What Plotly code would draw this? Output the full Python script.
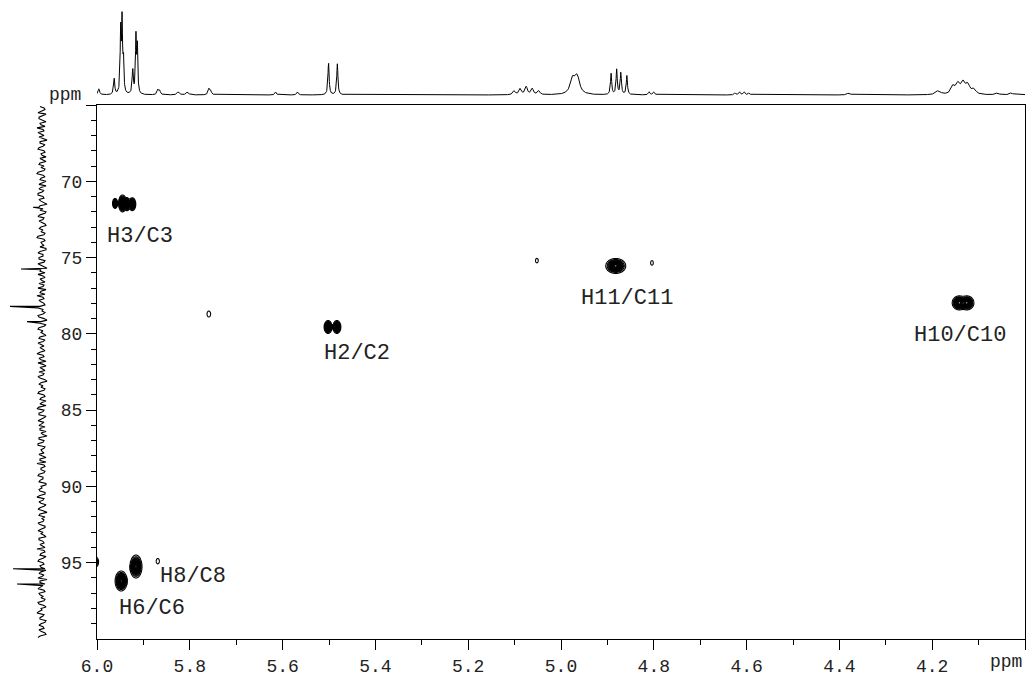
import numpy as np
import plotly.graph_objects as go

# ---------------- 2D cross peaks (1H ppm, 13C ppm) ----------------
peak_h = [5.961, 5.945, 5.935, 5.924, 5.502, 5.483, 4.882, 4.142, 4.125,
          5.916, 5.948, 6.003, 5.759, 5.052, 4.804, 5.869]
peak_c = [71.45, 71.45, 71.50, 71.50, 79.55, 79.55, 75.55, 77.97, 77.97,
          95.25, 96.20, 94.95, 78.70, 75.20, 75.35, 94.90]
peak_sh = [0.0022, 0.0035, 0.0026, 0.0031, 0.0035, 0.0035, 0.0088, 0.0061, 0.0061,
           0.0053, 0.0053, 0.0034, 0.0040, 0.0030, 0.0030, 0.0035]
peak_sc = [0.133, 0.227, 0.173, 0.173, 0.173, 0.173, 0.200, 0.187, 0.187,
           0.307, 0.267, 0.173, 0.200, 0.150, 0.150, 0.180]
peak_amp = [1, 1, 1, 1, 1, 1, 1, 1, 1, 1, 1, 0.3, 0.08, 0.08, 0.08, 0.08]

# ---------------- assignments ----------------
label_text = ["H3/C3", "H2/C2", "H11/C11", "H10/C10", "H8/C8", "H6/C6"]
label_h = [5.908, 5.439, 4.858, 4.140, 5.794, 5.882]
label_c = [73.6, 81.3, 77.7, 80.1, 95.9, 98.0]

# ---------------- 1H projection (top) ----------------
top_ppm = [5.996, 5.963, 5.949, 5.946, 5.943, 5.923, 5.916, 5.913, 5.869, 5.865,
           5.825, 5.805, 5.759, 5.755, 5.615, 5.568, 5.501, 5.482,
           5.101, 5.088, 5.075, 5.062, 5.048, 4.975, 4.965,
           4.892, 4.880, 4.871, 4.858, 4.810, 4.800,
           4.625, 4.615, 4.605, 4.595, 4.380,
           4.187, 4.155, 4.144, 4.133, 4.123, 4.110, 4.060, 4.030]
top_hgt = [6, 16, 62, 70, 32, 24, 56, 46, 5, 4,
           3, 3, 6, 4, 3, 3, 32, 31,
           4, 6, 8, 6, 4, 15, 17,
           21, 25, 22, 19, 3, 3,
           2, 3, 3, 2, 2,
           4, 8, 10, 11, 9, 5, 2, 2]
top_w = [0.0020, 0.0015, 0.0012, 0.0012, 0.0012, 0.0015, 0.0012, 0.0012, 0.0020, 0.0020,
         0.0030, 0.0030, 0.0020, 0.0020, 0.0020, 0.0020, 0.0015, 0.0015,
         0.0030, 0.0030, 0.0030, 0.0030, 0.0030, 0.0060, 0.0060,
         0.0015, 0.0015, 0.0015, 0.0015, 0.0020, 0.0020,
         0.0020, 0.0020, 0.0020, 0.0020, 0.0040,
         0.0060, 0.0050, 0.0050, 0.0050, 0.0050, 0.0050, 0.0040, 0.0040]

# ---------------- 13C projection (left) ----------------
side_noise_a = [2, -3, 4, -1, 3, -4, 1, 5, -2, 0, 3, -5, 2, -1, 4, -3, 0, 2, -4, 3,
                1, -2, 5, -3, 2, -1, -4, 3, 0, 4, -2, 1, -5, 3, 2, -3, 4, -1, 0, -4,
                3, 1, -2, 5, -3, 0, 2, -4, 4, -1, 3, -2, 1, -5, 2, 4, -3, 0, 3, -1,
                -4, 2, 5, -2, 1, -3, 4, 0, -1, 3, -5, 2, -2, 4, 1, -4, 3, -1, 0, 2,
                -3, 5, -2, 1, 4, -4, 0, 3, -1, 2, -5, 3, 1, -2, 4, -3, 2, 0, -4, 5,
                -1, 3, -2, 4, 0, -3, 2, 1, -5, 3, -1, 4, -2, 0, 3, -4, 2, 5, -3, 1,
                -2, 4, -1, 3, -4, 0, 2, -3, 5, -1, 1, -2, 4, -5, 3, 0, -1, 2, -3, 4,
                1, -4, 3, -2, 0, 5, -3, 2, -1, 4, -2, 1, -4, 3, 0, -5, 2, -1, 4, -3,
                2, 1, -2, 3, -4, 0, 5, -1, 2, -3, 3, -2, 1, -4, 4]
side_noise_b = [-2, 1, -4, 3, -1, 2, -3, -1, 4, -2, -1, 2, -3, 3, -2, 1, -4, -1, 2, -2,
                -3, 4, -1, 1, -4, 3, 1, -2, 4, -1, 3, -3, 2, -1, -4, 2, -2, 3, -3, 1,
                -1, -3, 4, -2, 1, -2, -4, 2, -1, 3, -3, 4, -2, 1, -3, -1, 2, -3, -2, 4,
                1, -3, -1, 3, -2, 2, -1, -3, 4, -2, 1, -4, 3, -1, -2, 2, -3, 4, -2, -1,
                2, -1, 3, -4, -1, 2, -3, -2, 4, -3, 1, -1, -3, 3, -2, 1, -4, 2, 3, -2,
                3, -4, 1, -2, 3, 2, -4, -1, 3, -2, 4, -3, 1, -2, -1, 2, -4, -2, 1, -3,
                3, -1, 2, -4, 1, 3, -3, 2, -2, 3, -4, 2, -1, 2, -3, -2, 4, -3, 1, -1,
                -2, 3, -1, 2, -3, -2, 1, -4, 3, -1, 2, -3, 1, -2, 4, 2, -3, 1, -2, 3,
                -1, -3, 4, -2, 1, 3, -2, 2, -4, 1, -1, 3, -3, 2, -1]
side_start, side_step = 65.1, 0.2
side_peak_c = [71.7, 75.75, 78.2, 79.2, 95.4, 96.4]
side_peak_h = [9, 21, 32, 15, 29, 25]

FONT = "Courier New, Courier, Liberation Mono, monospace"
W, H = 1030, 677
X0, X1 = 97, 1025      # main plot pixel extent
Y0, Y1 = 105, 639

fig = go.Figure()

# ---- contours: cluster nearby peaks, evaluate on local grids ----
n = len(peak_h)
group = list(range(n))
def root(i):
    while group[i] != i:
        i = group[i]
    return i
for i in range(n):
    for j in range(i + 1, n):
        if abs(peak_h[i] - peak_h[j]) < 0.03 and abs(peak_c[i] - peak_c[j]) < 1.5:
            group[root(j)] = root(i)
clusters = {}
for i in range(n):
    clusters.setdefault(root(i), []).append(i)

for idx in clusters.values():
    hmin = min(peak_h[i] - 4 * peak_sh[i] for i in idx)
    hmax = max(peak_h[i] + 4 * peak_sh[i] for i in idx)
    cmin = min(peak_c[i] - 4 * peak_sc[i] for i in idx)
    cmax = max(peak_c[i] + 4 * peak_sc[i] for i in idx)
    gx = np.linspace(hmin, hmax, 140)
    gy = np.linspace(cmin, cmax, 140)
    XX, YY = np.meshgrid(gx, gy)
    Z = np.zeros_like(XX)
    for i in range(n):
        Z += peak_amp[i] * np.exp(-0.5 * ((XX - peak_h[i]) / peak_sh[i]) ** 2
                                  - 0.5 * ((YY - peak_c[i]) / peak_sc[i]) ** 2)
    fig.add_trace(go.Contour(
        x=gx, y=gy, z=Z, autocontour=False,
        contours=dict(start=0.05, end=1.0, size=0.06, coloring="lines", showlabels=False),
        colorscale=[[0, "black"], [1, "black"]], showscale=False,
        line=dict(width=1.1), hoverinfo="skip", xaxis="x", yaxis="y"))

# ---- top 1D spectrum ----
tx = np.arange(3.99, 6.01, 0.0004)
ty = np.zeros_like(tx)
for p, h, w in zip(top_ppm, top_hgt, top_w):
    ty += h * w ** 2 / ((tx - p) ** 2 + w ** 2)
fig.add_trace(go.Scatter(x=tx, y=ty, mode="lines", line=dict(color="black", width=1),
                         xaxis="x2", yaxis="y2", hoverinfo="skip", showlegend=False))

# ---- left 1D projection ----
sc = ([side_start + side_step * i for i in range(len(side_noise_a))]
      + [side_start + side_step * (i + 0.5) for i in range(len(side_noise_b))]
      + side_peak_c)
sv = list(side_noise_a) + list(side_noise_b) + side_peak_h
order = np.argsort(sc)
sc_arr = np.array(sc)[order]
sv_arr = np.array(sv)[order]
keep = sc_arr <= 99.95
fig.add_trace(go.Scatter(x=sv_arr[keep], y=sc_arr[keep], mode="lines",
                         line=dict(color="black", width=1.1),
                         xaxis="x3", yaxis="y", hoverinfo="skip", showlegend=False))

# ---- annotations ----
for t, hx, cy in zip(label_text, label_h, label_c):
    fig.add_annotation(x=hx, y=cy, xref="x", yref="y", text=t, showarrow=False,
                       xanchor="center", yanchor="middle",
                       font=dict(family=FONT, size=22, color="#222"))
fig.add_annotation(x=65 / W, y=1 - 95 / H, xref="paper", yref="paper", text="ppm",
                   showarrow=False, xanchor="center", yanchor="middle",
                   font=dict(family=FONT, size=18, color="#222"))
fig.add_annotation(x=1006 / W, y=1 - 662 / H, xref="paper", yref="paper", text="ppm",
                   showarrow=False, xanchor="center", yanchor="middle",
                   font=dict(family=FONT, size=18, color="#222"))

xt = [6.0, 5.8, 5.6, 5.4, 5.2, 5.0, 4.8, 4.6, 4.4, 4.2, 4.0]
xt_txt = ["6.0", "5.8", "5.6", "5.4", "5.2", "5.0", "4.8", "4.6", "4.4", "4.2", ""]
yt = [65, 70, 75, 80, 85, 90, 95]
yt_txt = ["", "70", "75", "80", "85", "90", "95"]

xdom = [X0 / W, X1 / W]
ydom = [1 - Y1 / H, 1 - Y0 / H]
fig.update_layout(
    width=W, height=H, margin=dict(l=0, r=0, t=0, b=0, autoexpand=False),
    paper_bgcolor="white", plot_bgcolor="white", showlegend=False,
    font=dict(family=FONT, size=18, color="#222"),
    xaxis=dict(domain=xdom, range=[6.0, 4.0], anchor="y", showgrid=False, zeroline=False,
               automargin=False,
               showline=True, linecolor="black", linewidth=1, mirror=True,
               ticks="outside", ticklen=10, tickcolor="black", tickwidth=1,
               tickmode="array", tickvals=xt, ticktext=xt_txt,
               minor=dict(ticks="outside", ticklen=5, tickcolor="black",
                          tickvals=[5.9, 5.7, 5.5, 5.3, 5.1, 4.9, 4.7, 4.5, 4.3, 4.1]),
               tickfont=dict(family=FONT, size=18, color="#222")),
    yaxis=dict(domain=ydom, range=[100, 65], anchor="x", showgrid=False, zeroline=False,
               automargin=False,
               showline=True, linecolor="black", linewidth=1, mirror=True,
               ticks="outside", ticklen=10, tickcolor="black", tickwidth=1,
               tickmode="array", tickvals=yt, ticktext=yt_txt,
               minor=dict(ticks="outside", ticklen=5, tickcolor="black",
                          tickvals=[v for v in range(66, 100) if v % 5 != 0]),
               tickfont=dict(family=FONT, size=18, color="#222")),
    xaxis2=dict(domain=xdom, matches="x", anchor="y2", visible=False, automargin=False),
    yaxis2=dict(domain=[1 - 100 / H, 1 - 5 / H], range=[-5, 90], anchor="x2",
                visible=False, automargin=False),
    xaxis3=dict(domain=[0, 60 / W], range=[42, -18], anchor="y", visible=False,
                automargin=False),
)

fig.write_html("out.html", config={"displayModeBar": False},
               post_script="document.body.style.margin='0';document.body.style.padding='0';")
